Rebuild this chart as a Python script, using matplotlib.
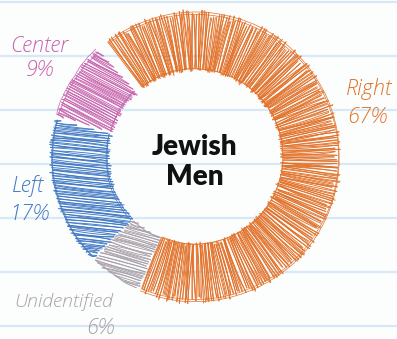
import numpy as np
import matplotlib
matplotlib.use("Agg")
import matplotlib.pyplot as plt

# Share of Jewish men by political identification
labels = ["Right", "Unidentified", "Left", "Center"]
values = [67, 6, 17, 9]
percent_labels = ["67%", "6%", "17%", "9%"]
colors = ["#e2722a", "#a9a0a8", "#4078c3", "#c763ad"]

W, H = 397, 339
fig = plt.figure(figsize=(W / 100, H / 100), dpi=100)
ax = fig.add_axes([0, 0, 1, 1])
ax.set_xlim(0, W)
ax.set_ylim(H, 0)
ax.axis("off")
fig.patch.set_facecolor("#fcfefe")

# ruled notebook paper
for y in np.arange(1.5, H, 54):
    ax.axhline(y, color="#d9e8f5", lw=1.6, zorder=0)

cx, cy = 195, 157
r_in, r_out = 88, 143
start = 322.0          # degrees clockwise from 12 o'clock
gap = 1.0
rng = np.random.default_rng(11)

# hatch mode per slice: None -> radial strokes, number -> fixed stroke angle (deg, screen)
hatch_angle = [None, 16, 6, 28]
hatch_step = [2.0, 2.6, 2.5, 2.5]


def pt(theta, r):
    t = np.radians(theta)
    return cx + r * np.sin(t), cy - r * np.cos(t)


def rough_line(x0, y0, x1, y1, color, lw=0.65, bow=0.7, jit=0.45):
    for _ in range(2):
        jx0, jy0, jx1, jy1 = rng.normal(0, jit, 4)
        xa, ya = x0 + jx0, y0 + jy0
        xb, yb = x1 + jx1, y1 + jy1
        dx, dy = xb - xa, yb - ya
        L = np.hypot(dx, dy) + 1e-9
        nx, ny = -dy / L, dx / L
        off = rng.normal(0, bow)
        t = np.linspace(0, 1, 8)
        xs = xa + dx * t + nx * off * 4 * t * (1 - t)
        ys = ya + dy * t + ny * off * 4 * t * (1 - t)
        ax.plot(xs, ys, color=color, lw=lw, solid_capstyle="round", zorder=2)


def inside(xs, ys, a0, span):
    dx, dy = xs - cx, ys - cy
    r = np.hypot(dx, dy)
    ang = np.degrees(np.arctan2(dx, -dy)) % 360
    return (r >= r_in) & (r <= r_out) & (((ang - a0) % 360) <= span)


total = 100.0
a = start
for lab, v, col, ha_, step in zip(labels, values, colors, hatch_angle, hatch_step):
    span = v / total * 360.0
    a0, a1 = a + gap, a + span - gap
    a += span
    if ha_ is None:
        rm = (r_in + r_out) / 2
        dstep = np.degrees(step / rm)
        for th in np.arange(a0, a1, dstep):
            tilt = rng.normal(0, 0.35)
            x0, y0 = pt(th + tilt, r_in + rng.uniform(-2.5, 1.5))
            x1, y1 = pt(th - tilt * 0.5, r_out + rng.uniform(-3, 4))
            rough_line(x0, y0, x1, y1, col)
    else:
        phi = np.radians(ha_)
        d = np.array([np.cos(phi), np.sin(phi)])
        n = np.array([-np.sin(phi), np.cos(phi)])
        mx, my = pt((a0 + a1) / 2, (r_in + r_out) / 2)
        tt = np.linspace(-160, 160, 1281)
        for s in np.arange(-150, 150, step):
            xs = mx + s * n[0] + tt * d[0]
            ys = my + s * n[1] + tt * d[1]
            m = inside(xs, ys, a0, a1 - a0)
            if not m.any():
                continue
            idx = np.where(m)[0]
            runs = np.split(idx, np.where(np.diff(idx) > 1)[0] + 1)
            for run in runs:
                if len(run) < 4:
                    continue
                ta = tt[run[0]] - rng.uniform(0, 3)
                tb = tt[run[-1]] + rng.uniform(0, 3)
                rough_line(mx + s * n[0] + ta * d[0], my + s * n[1] + ta * d[1],
                           mx + s * n[0] + tb * d[0], my + s * n[1] + tb * d[1], col)
    # sketchy outline along the arcs
    for r in (r_in, r_out):
        for _ in range(2):
            th = np.linspace(a0, a1, 60)
            rr = r + rng.normal(0, 0.8) + np.cumsum(rng.normal(0, 0.12, th.size))
            xs, ys = pt(th, rr)
            ax.plot(xs, ys, color=col, lw=0.5, zorder=2)

label_font = ["Open Sans", "DejaVu Sans"]
lab_pos = {
    "Right": ((369, 95), (367, 123)),
    "Unidentified": ((64, 307), (100, 334)),
    "Left": ((28, 192), (29, 220)),
    "Center": ((39, 52), (40, 76)),
}
for lab, pl, col in zip(labels, percent_labels, colors):
    (x0, y0), (x1, y1) = lab_pos[lab]
    fs = 14 if lab == "Unidentified" else 15.5
    ax.text(x0, y0, lab, color=col, fontsize=fs, family=label_font,
            style="italic", weight="light", ha="center", va="baseline", zorder=3)
    ax.text(x1, y1, pl, color=col, fontsize=15.5, family=label_font,
            style="italic", weight="light", ha="center", va="baseline", zorder=3)

ax.text(cx, 155, "Jewish", fontsize=20, family=["Lato", "DejaVu Sans"],
        weight="heavy", color="#111111", ha="center", va="baseline", zorder=3)
ax.text(cx, 185, "Men", fontsize=20, family=["Lato", "DejaVu Sans"],
        weight="heavy", color="#111111", ha="center", va="baseline", zorder=3)

fig.savefig("out.png", dpi=100, facecolor=fig.get_facecolor())
